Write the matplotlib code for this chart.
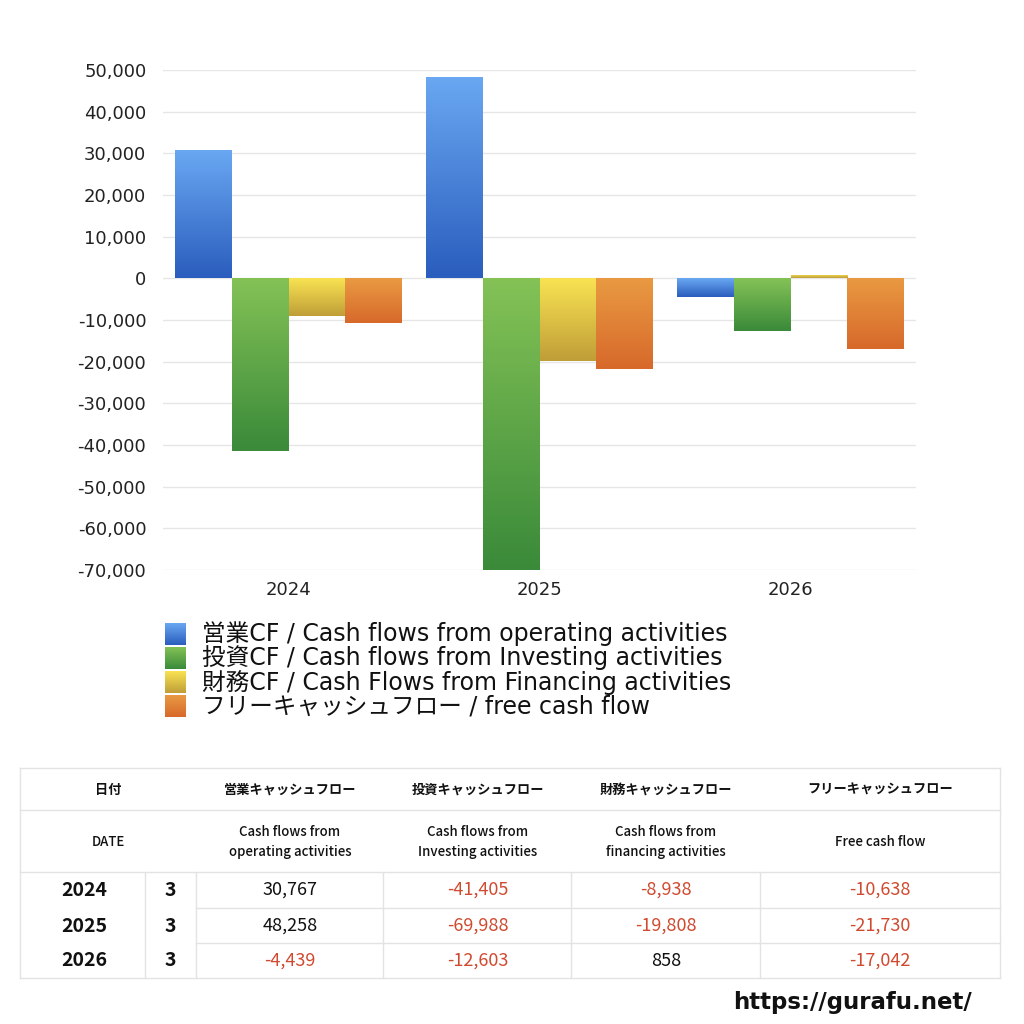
import numpy as np
import matplotlib.pyplot as plt
from matplotlib.colors import LinearSegmentedColormap

plt.rcParams['font.family'] = ['Noto Sans CJK JP', 'DejaVu Sans']
latin_first = ['DejaVu Sans', 'Noto Sans CJK JP']

# データ
years = ["2024", "2025", "2026"]
months = ["3", "3", "3"]
operating_cf = [30767, 48258, -4439]
investing_cf = [-41405, -69988, -12603]
financing_cf = [-8938, -19808, 858]
free_cf = [-10638, -21730, -17042]

series_labels = [
    "営業CF / Cash flows from operating activities",
    "投資CF / Cash flows from Investing activities",
    "財務CF / Cash Flows from Financing activities",
    "フリーキャッシュフロー / free cash flow",
]
table_head_jp = ["日付", "営業キャッシュフロー", "投資キャッシュフロー",
                 "財務キャッシュフロー", "フリーキャッシュフロー"]
table_head_en = ["DATE", "Cash flows from\noperating activities",
                 "Cash flows from\nInvesting activities",
                 "Cash flows from\nfinancing activities", "Free cash flow"]

# グラデーション (下の色, 上の色)
grad_colors = [
    ("#2a5dbd", "#6aa8f2"),
    ("#3a8a3a", "#84c256"),
    ("#bf9e38", "#f9e352"),
    ("#d7692b", "#e99a42"),
]

all_series = [operating_cf, investing_cf, financing_cf, free_cf]

fig = plt.figure(figsize=(10.24, 10.24), dpi=100)
ax = fig.add_axes([163 / 1024, 1 - 570 / 1024, 753 / 1024, 500 / 1024])

x = np.arange(len(years))
w = 0.227
grad = np.linspace(0, 1, 256).reshape(-1, 1)

for i, vals in enumerate(all_series):
    cmap = LinearSegmentedColormap.from_list("g%d" % i, grad_colors[i])
    bars = ax.bar(x + (i - 1.5) * w, vals, width=w, color="none", zorder=3)
    for b in bars:
        bx, by = b.get_x(), b.get_y()
        bw, bh = b.get_width(), b.get_height()
        y0, y1 = min(by, by + bh), max(by, by + bh)
        im = ax.imshow(grad, extent=[bx, bx + bw, y0, y1], origin="lower",
                       aspect="auto", cmap=cmap, zorder=3)
        im.set_clip_path(b)

ax.set_xlim(-0.5, 2.5)
ax.set_ylim(-70000, 50000)
ax.set_yticks(range(-70000, 50001, 10000))
ax.yaxis.set_major_formatter(plt.FuncFormatter(lambda v, p: f"{int(v):,}"))
ax.set_xticks(x)
ax.set_xticklabels(years)
ax.tick_params(axis="both", length=0, labelsize=13, colors="#222222")
ax.tick_params(axis="y", pad=12)
ax.tick_params(axis="x", pad=8)
for t in ax.get_xticklabels() + ax.get_yticklabels():
    t.set_family(latin_first)
ax.grid(axis="y", color="#e6e6e6", linewidth=1, zorder=0)
for s in ax.spines.values():
    s.set_visible(False)

# 凡例と表は画素座標で描く
ov = fig.add_axes([0, 0, 1, 1])
ov.axis("off")

leg_y = [634, 658, 682, 706]
for i, lab in enumerate(series_labels):
    cmap = LinearSegmentedColormap.from_list("l%d" % i, grad_colors[i])
    ov.imshow(grad[::-1], extent=[165, 186, leg_y[i] + 11, leg_y[i] - 11],
              origin="upper", aspect="auto", cmap=cmap)
    ov.text(202, leg_y[i], lab, fontsize=17, va="center", ha="left",
            color="#111111", family=latin_first)
ov.set_xlim(0, 1024)
ov.set_ylim(1024, 0)

# 表
line_c = "#e3e3e3"
t_left, t_right = 20, 1000
col_x = [20, 145, 196, 383, 571, 760, 1000]
for yy in [768, 810, 872, 978]:
    ov.plot([t_left, t_right], [yy, yy], color=line_c, lw=1)
for yy in [908, 943]:
    ov.plot([196, t_right], [yy, yy], color=line_c, lw=1)
ov.plot([t_left, t_left], [768, 978], color=line_c, lw=1)
ov.plot([t_right, t_right], [768, 978], color=line_c, lw=1)
for cx in col_x[1:-1]:
    ov.plot([cx, cx], [872, 978], color=line_c, lw=1)

head_cx = [108, 290, 478, 666, 880]
for j in range(5):
    ov.text(head_cx[j], 790, table_head_jp[j], fontsize=9.5, fontweight="bold",
            ha="center", va="center", color="#111111")
    ov.text(head_cx[j], 842, table_head_en[j], fontsize=9.5, fontweight="medium",
            ha="center", va="center", color="#111111", linespacing=1.5)

row_y = [890, 926, 961]
val_cx = [290, 478, 666, 880]
for r in range(len(years)):
    ov.text(84, row_y[r], years[r], fontsize=14, fontweight="bold",
            ha="center", va="center", color="#111111")
    ov.text(170, row_y[r], months[r], fontsize=14, fontweight="bold",
            ha="center", va="center", color="#111111")
    for j, vals in enumerate(all_series):
        v = vals[r]
        ov.text(val_cx[j], row_y[r], f"{v:,}", fontsize=13, ha="center",
                va="center", color="#d04a30" if v < 0 else "#111111")

ov.text(972, 1003, "https://gurafu.net/", fontsize=16.5, fontweight="bold",
        ha="right", va="center", color="#111111", family=latin_first)

fig.savefig("out.png", dpi=100, facecolor="white")
